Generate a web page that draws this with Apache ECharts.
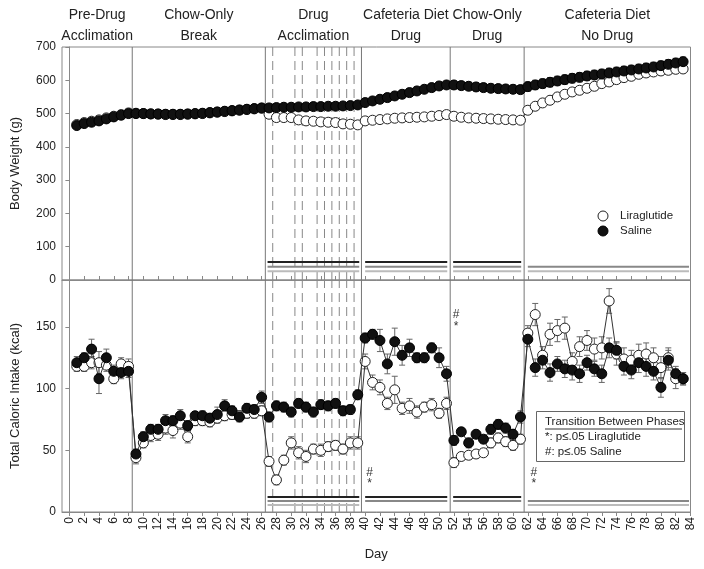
<!DOCTYPE html>
<html><head><meta charset="utf-8">
<script src="https://cdn.jsdelivr.net/npm/echarts@6/dist/echarts.min.js"></script>
<style>html,body{margin:0;padding:0;background:#fff}#c{width:704px;height:569px}</style>
</head><body><div id="c"></div>
<script>
// ---------- DATA ----------
const days = [1,2,3,4,5,6,7,8,9,10,11,12,13,14,15,16,17,18,19,20,21,22,23,24,25,26,27,28,29,30,31,32,33,34,35,36,37,38,39,40,41,42,43,44,45,46,47,48,49,50,51,52,53,54,55,56,57,58,59,60,61,62,63,64,65,66,67,68,69,70,71,72,73,74,75,76,77,78,79,80,81,82,83];
const dayTicks = [0,2,4,6,8,10,12,14,16,18,20,22,24,26,28,30,32,34,36,38,40,42,44,46,48,50,52,54,56,58,60,62,64,66,68,70,72,74,76,78,80,82,84];
const bwTicks = [0,100,200,300,400,500,600,700];
const kcalTicks = [0,50,100,150];

// Body weight (g)
const bwSaline = [464,470,474,478,484,490,495,500,
  500,500,499,499,498,498,498,499,500,501,503,505,507,509,511,513,515,517,
  517,518,519,519,520,520,521,521,522,522,523,524,526,
  533,538,543,548,553,558,563,568,573,578,583,586,
  586,584,582,580,578,576,575,574,573,572,
  581,586,590,594,598,602,606,609,613,616,619,622,625,628,631,634,637,640,644,648,652,656];
const bwLira = [467,473,477,481,487,492,497,502,
  501,500,499,498,497,497,497,498,499,500,502,504,506,508,510,512,514,516,
  498,488,488,488,481,478,477,475,474,473,469,468,466,
  478,480,482,484,486,487,488,489,490,492,494,497,
  492,489,487,486,485,484,483,482,481,480,
  510,522,532,540,550,558,565,570,576,582,590,595,602,608,612,618,622,625,628,630,633,634];
const bwSalineErr = [8,8,8,8,8,8,8,8,
  8,8,8,8,8,8,8,8,8,8,8,8,8,8,8,8,8,8,
  9,9,9,9,9,9,9,9,9,9,9,9,9,
  11,11,11,11,11,11,11,11,11,11,11,11,
  12,12,12,12,12,12,12,12,12,12,
  14,14,14,14,14,14,14,14,14,14,14,14,14,14,14,14,14,14,14,14,14,14];
const bwLiraErr = [7,7,7,7,7,7,7,7,
  7,7,7,7,7,7,7,7,7,7,7,7,7,7,7,7,7,7,
  8,8,8,8,8,8,8,8,8,8,8,8,8,
  9,9,9,9,9,9,9,9,9,9,9,9,
  9,9,9,9,9,9,9,9,9,9,
  11,11,11,11,11,11,11,11,11,11,11,11,11,11,11,11,11,11,11,11,11,11];

// Total caloric intake (kcal)
const kcalSaline = [121,125,132,108,125,114,113,114,
  47,61,67,67,74,74,78,70,78,78,76,79,86,82,77,84,83,93,
  77,86,85,81,88,85,81,87,86,88,82,83,95,
  141,144,139,120,138,127,133,125,125,133,125,112,
  58,65,56,63,59,67,71,68,63,77,
  140,117,123,113,120,116,115,112,121,116,112,133,131,118,115,121,118,114,101,123,112,108];
const kcalLira = [118,118,121,121,119,108,120,118,
  44,56,62,63,68,66,72,61,74,74,73,76,78,79,78,80,80,82,
  41,26,42,56,48,45,51,50,53,54,51,56,56,
  122,105,101,88,99,84,86,81,85,87,80,88,
  40,45,46,47,48,56,60,57,54,59,
  145,160,127,144,147,149,122,134,139,132,133,171,128,124,123,127,128,125,117,125,108,108];
const kcalSalineErr = [5,4,8,12,7,5,5,5,
  4,4,4,4,5,4,5,4,3,4,4,6,5,4,4,4,4,5,
  4,4,4,4,4,4,4,4,4,4,4,4,4,
  4,4,9,8,11,8,7,4,4,4,8,6,
  4,3,4,3,3,4,4,4,4,5,
  6,7,7,7,6,7,8,7,6,6,7,8,7,7,7,8,8,7,8,8,6,5];
const kcalLiraErr = [4,4,5,9,5,4,5,6,
  5,4,5,5,5,6,5,5,4,4,4,4,4,4,4,4,4,4,
  4,4,4,5,5,5,4,5,4,4,4,5,5,
  6,6,6,5,11,5,6,5,4,5,4,5,
  4,3,3,3,3,4,4,4,4,4,
  6,9,7,9,9,9,7,8,8,9,9,10,9,9,8,9,9,8,9,8,8,5];

// Phase boundaries and dose-escalation days
const phaseLines = [8.5, 26.5, 39.5, 51.5, 61.5];
const doseLines = [27.5, 30.5, 31.5, 33.5, 34.5, 35.5, 36.5, 37.5, 38.5];
const phaseTitles = [
  ["Pre-Drug", "Acclimation", -1, 8.5],
  ["Chow-Only", "Break", 8.5, 26.5],
  ["Drug", "Acclimation", 26.5, 39.5],
  ["Cafeteria Diet", "Drug", 39.5, 51.5],
  ["Chow-Only", "Drug", 51.5, 61.5],
  ["Cafeteria Diet", "No Drug", 61.5, 84]
];
// significance bars: [from day, to day, level, shade]
const sigBarsTop = [
  [26.8, 39.2, 54, 'k'], [26.8, 39.2, 40, 'g'], [26.8, 39.2, 26, 'l'],
  [40.0, 51.1, 54, 'k'], [40.0, 51.1, 40, 'g'], [40.0, 51.1, 26, 'l'],
  [51.9, 61.1, 54, 'k'], [51.9, 61.1, 40, 'g'], [51.9, 61.1, 26, 'l'],
  [62.0, 83.8, 40, 'g'], [62.0, 83.8, 26, 'l']
];
const sigBarsBottom = [
  [26.8, 39.2, 12.2, 'k'], [26.8, 39.2, 8.9, 'g'], [26.8, 39.2, 5.7, 'l'],
  [40.0, 51.1, 12.2, 'k'], [40.0, 51.1, 8.9, 'g'],
  [51.9, 61.1, 12.2, 'k'], [51.9, 61.1, 8.9, 'g'],
  [62.0, 83.8, 8.9, 'g'], [62.0, 83.8, 5.7, 'l']
];
const transitionMarks = [[52.3, 160, '#'], [52.3, 150, '*'], [40.6, 32, '#'], [40.6, 23, '*'], [62.8, 32, '#'], [62.8, 23, '*']];

// ---------- CHART ----------
const FONT = 'Liberation Sans, Arial, sans-serif';
const TXT = '#222';
const AX = '#888';
const sigColors = {k: '#222', g: '#888', l: '#bbb'};
const chart = echarts.init(document.getElementById('c'), null, {renderer: 'canvas'});

function errSeries(gi, vals, errs, z) {
  return {
    type: 'custom', xAxisIndex: gi, yAxisIndex: gi, z: z, silent: true,
    data: days.map((d, i) => [d, vals[i], errs[i]]),
    renderItem(params, api) {
      const x = api.value(0), y = api.value(1), e = api.value(2);
      const t = api.coord([x, y + e]), b = api.coord([x, y - e]);
      const w = 3, st = {stroke: '#666', lineWidth: 1};
      return {type: 'group', children: [
        {type: 'line', shape: {x1: t[0], y1: t[1], x2: b[0], y2: b[1]}, style: st},
        {type: 'line', shape: {x1: t[0] - w, y1: t[1], x2: t[0] + w, y2: t[1]}, style: st},
        {type: 'line', shape: {x1: b[0] - w, y1: b[1], x2: b[0] + w, y2: b[1]}, style: st}
      ]};
    }
  };
}
function dataSeries(gi, vals, filled, z) {
  return {
    type: 'line', xAxisIndex: gi, yAxisIndex: gi, z: z, silent: true,
    data: days.map((d, i) => [d, vals[i]]),
    symbol: 'circle', symbolSize: 10, showAllSymbol: true,
    lineStyle: {color: '#333', width: 1},
    itemStyle: filled ? {color: '#111', borderColor: '#000', borderWidth: 1}
                      : {color: '#fff', borderColor: '#222', borderWidth: 1},
    emphasis: {disabled: true}
  };
}
function vlineSeries(gi, xs, ymax, dashed) {
  return {
    type: 'custom', xAxisIndex: gi, yAxisIndex: gi, z: 1, silent: true,
    data: xs.map(x => [x]),
    renderItem(params, api) {
      const x = api.value(0);
      const a = api.coord([x, 0]), b = api.coord([x, ymax]);
      return {type: 'line', shape: {x1: a[0], y1: a[1], x2: b[0], y2: b[1]},
        style: {stroke: dashed ? '#888' : '#777', lineWidth: 1, lineDash: dashed ? [9, 5] : null}};
    }
  };
}
function sigSeries(gi, bars) {
  return {
    type: 'custom', xAxisIndex: gi, yAxisIndex: gi, z: 2, silent: true,
    data: bars.map(b => [b[0], b[1], b[2]]),
    renderItem(params, api) {
      const a = api.coord([api.value(0), api.value(2)]);
      const b = api.coord([api.value(1), api.value(2)]);
      const c = sigColors[bars[params.dataIndex][3]];
      return {type: 'line', shape: {x1: a[0], y1: a[1], x2: b[0], y2: b[1]}, style: {stroke: c, lineWidth: 2}};
    }
  };
}

const KMAX = 188;
const option = {
  animation: false,
  backgroundColor: '#fff',
  textStyle: {fontFamily: FONT},
  grid: [
    {left: 62, right: 13.5, top: 47, height: 233, show: true, borderColor: AX, borderWidth: 1},
    {left: 62, right: 13.5, top: 280, height: 232, show: true, borderColor: AX, borderWidth: 1}
  ],
  xAxis: [
    {type: 'value', gridIndex: 0, min: -1, max: 84,
      axisLine: {lineStyle: {color: AX}},
      axisTick: {inside: true, length: 4, customValues: dayTicks, lineStyle: {color: AX}},
      axisLabel: {show: false}, splitLine: {show: false}},
    {type: 'value', gridIndex: 1, min: -1, max: 84,
      name: 'Day', nameLocation: 'middle', nameGap: 36,
      nameTextStyle: {fontSize: 13, color: TXT, fontFamily: FONT},
      axisLine: {lineStyle: {color: AX}},
      axisTick: {length: 4, customValues: dayTicks, lineStyle: {color: AX}},
      axisLabel: {customValues: dayTicks, rotate: 90, fontSize: 12, color: TXT, margin: 5, fontFamily: FONT},
      splitLine: {show: false}}
  ],
  yAxis: [
    {type: 'value', gridIndex: 0, min: 0, max: 700,
      name: 'Body Weight (g)', nameLocation: 'middle', nameGap: 40, nameRotate: 90,
      nameTextStyle: {fontSize: 13, color: TXT, fontFamily: FONT},
      axisLine: {show: true, lineStyle: {color: AX}},
      axisTick: {show: true, length: 4, customValues: bwTicks, lineStyle: {color: AX}},
      axisLabel: {customValues: bwTicks, fontSize: 12, color: TXT, margin: 6, fontFamily: FONT},
      splitLine: {show: false}},
    {type: 'value', gridIndex: 1, min: 0, max: KMAX,
      name: 'Total Caloric Intake (kcal)', nameLocation: 'middle', nameGap: 40, nameRotate: 90,
      nameTextStyle: {fontSize: 13, color: TXT, fontFamily: FONT},
      axisLine: {show: true, lineStyle: {color: AX}},
      axisTick: {show: true, length: 4, customValues: kcalTicks, lineStyle: {color: AX}},
      axisLabel: {customValues: kcalTicks, fontSize: 12, color: TXT, margin: 6, fontFamily: FONT},
      splitLine: {show: false}}
  ],
  series: [
    vlineSeries(0, phaseLines, 700, false),
    vlineSeries(0, doseLines, 700, true),
    vlineSeries(1, phaseLines, KMAX, false),
    vlineSeries(1, doseLines, KMAX, true),
    sigSeries(0, sigBarsTop),
    sigSeries(1, sigBarsBottom),
    errSeries(0, bwLira, bwLiraErr, 3),
    errSeries(0, bwSaline, bwSalineErr, 3),
    errSeries(1, kcalLira, kcalLiraErr, 3),
    errSeries(1, kcalSaline, kcalSalineErr, 3),
    dataSeries(0, bwLira, false, 4),
    dataSeries(0, bwSaline, true, 5),
    dataSeries(1, kcalLira, false, 4),
    dataSeries(1, kcalSaline, true, 5)
  ]
};
chart.setOption(option);

// ---------- TEXT OVERLAYS ----------
const g = [];
const topY = chart.convertToPixel({yAxisIndex: 0}, 700);
phaseTitles.forEach(p => {
  const cx = chart.convertToPixel({xAxisIndex: 0}, (p[2] + p[3]) / 2);
  g.push({type: 'text', x: cx, y: topY - 32, style: {text: p[0], font: '14px ' + FONT, fill: TXT, align: 'center', verticalAlign: 'middle'}});
  g.push({type: 'text', x: cx, y: topY - 11, style: {text: p[1], font: '14px ' + FONT, fill: TXT, align: 'center', verticalAlign: 'middle'}});
});
transitionMarks.forEach(m => {
  const pt = chart.convertToPixel({gridIndex: 1}, [m[0], m[1]]);
  g.push({type: 'text', x: pt[0], y: pt[1], style: {text: m[2], font: '12px ' + FONT, fill: '#333', align: 'center', verticalAlign: 'middle'}});
});
// legend (top panel)
g.push({type: 'circle', shape: {cx: 603, cy: 216, r: 5}, style: {fill: '#fff', stroke: '#222', lineWidth: 1}});
g.push({type: 'circle', shape: {cx: 603, cy: 231, r: 5}, style: {fill: '#111', stroke: '#000', lineWidth: 1}});
g.push({type: 'text', x: 620, y: 216, style: {text: 'Liraglutide', font: '11.5px ' + FONT, fill: TXT, verticalAlign: 'middle'}});
g.push({type: 'text', x: 620, y: 231, style: {text: 'Saline', font: '11.5px ' + FONT, fill: TXT, verticalAlign: 'middle'}});
// transition box (bottom panel)
g.push({type: 'rect', shape: {x: 536.5, y: 411.5, width: 148, height: 50}, style: {fill: '#fff', stroke: '#666', lineWidth: 1}});
g.push({type: 'text', x: 545, y: 422, style: {text: 'Transition Between Phases', font: '11.5px ' + FONT, fill: TXT, verticalAlign: 'middle'}});
g.push({type: 'line', shape: {x1: 545, y1: 429, x2: 682, y2: 429}, style: {stroke: '#333', lineWidth: 1}});
g.push({type: 'text', x: 545, y: 437, style: {text: '*: p≤.05 Liraglutide', font: '11.5px ' + FONT, fill: TXT, verticalAlign: 'middle'}});
g.push({type: 'text', x: 545, y: 452, style: {text: '#: p≤.05 Saline', font: '11.5px ' + FONT, fill: TXT, verticalAlign: 'middle'}});
chart.setOption({graphic: g.map(e => Object.assign({z: 100, silent: true}, e))});
</script>
</body></html>
